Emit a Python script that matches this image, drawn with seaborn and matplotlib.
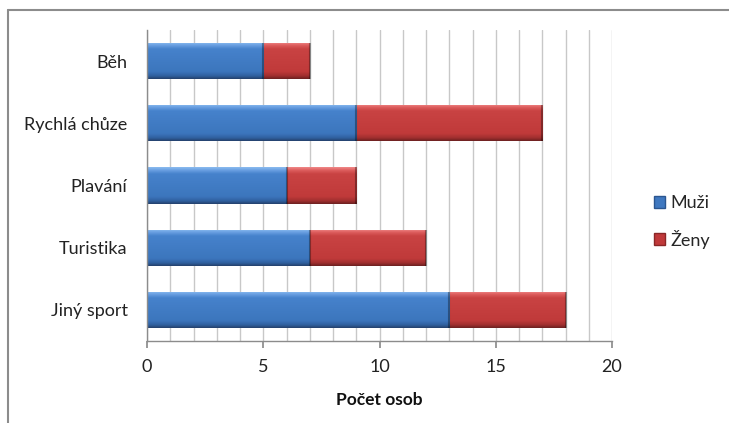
import numpy as np
import pandas as pd
import matplotlib
matplotlib.use("Agg")
import matplotlib.pyplot as plt
from matplotlib.colors import LinearSegmentedColormap
from matplotlib.patches import Patch
from matplotlib.lines import Line2D
import seaborn as sns

categories = ["Běh", "Rychlá chůze", "Plavání", "Turistika", "Jiný sport"]
muzi = [5, 9, 6, 7, 13]
zeny = [2, 8, 3, 5, 5]
x_ticks = [0, 5, 10, 15, 20]

sns.set_theme(style="white")
plt.rcParams["font.family"] = ["Lato", "DejaVu Sans"]

df = pd.DataFrame({"kategorie": categories, "Muži": muzi, "Ženy": zeny})
df["celkem"] = df["Muži"] + df["Ženy"]

fig = plt.figure(figsize=(7.29, 4.23), dpi=100)
ax = fig.add_axes([147 / 729, 1 - 341 / 423, (612 - 147) / 729, (341 - 30) / 423])

blue = "#3f78c0"
red = "#c0393a"

# totals first (women segment shows to the right), men on top
sns.barplot(data=df, y="kategorie", x="celkem", color=red, orient="h",
            width=0.58, ax=ax, saturation=1, edgecolor="none")
sns.barplot(data=df, y="kategorie", x="Muži", color=blue, orient="h",
            width=0.58, ax=ax, saturation=1, edgecolor="none")

# glossy vertical shading on each bar: light top rim, flat body, dark bottom rim
cmap_blue = LinearSegmentedColormap.from_list(
    "b", [(0.0, "#8cbcf0"), (0.08, "#6aa0e2"), (0.18, "#4682cc"),
          (0.8, "#3c76bd"), (0.92, "#30609f"), (1.0, "#243f6a")])
cmap_red = LinearSegmentedColormap.from_list(
    "r", [(0.0, "#f08a8a"), (0.08, "#de5e5e"), (0.18, "#c94343"),
          (0.8, "#c03a3a"), (0.92, "#9f2f2f"), (1.0, "#6a2020")])
grad = np.linspace(0, 1, 128).reshape(-1, 1)
n = len(categories)
for i, p in enumerate(list(ax.patches)):
    cm = cmap_red if i < n else cmap_blue
    x0, y0 = p.get_x(), p.get_y()
    w, h = p.get_width(), p.get_height()
    # y axis is inverted: y0 is the visual top of the bar
    im = ax.imshow(grad, cmap=cm, aspect="auto", origin="upper",
                   extent=[x0, x0 + w, y0 + h, y0], zorder=p.get_zorder() + 0.1,
                   interpolation="bicubic")
    im.set_clip_path(p)
    # darker end cap
    ax.plot([x0 + w, x0 + w], [y0, y0 + h], color="#00000055", lw=1.5,
            zorder=p.get_zorder() + 0.2, solid_capstyle="butt")

ax.set_xlim(0, 20)
ax.set_ylim(n - 0.5, -0.5)
ax.set_xticks(x_ticks)
ax.set_xticks(np.arange(0, 21, 1), minor=True)
ax.grid(axis="x", which="both", color="#c8c8c8", lw=1.0, zorder=0)
ax.set_axisbelow(True)
for s in ["top", "right"]:
    ax.spines[s].set_visible(False)
for s in ["left", "bottom"]:
    ax.spines[s].set_color("#8c8c8c")
    ax.spines[s].set_linewidth(1.0)
ax.tick_params(axis="x", which="major", length=5, color="#8c8c8c", bottom=True,
               labelsize=13, labelcolor="#222222", pad=8)
ax.tick_params(axis="x", which="minor", length=0)
ax.tick_params(axis="y", length=0, labelsize=13, labelcolor="#222222", pad=14)
ax.set_ylabel("")
ax.set_xlabel("Počet osob", fontsize=12.5, fontweight="bold", color="#111111", labelpad=12)

handles = [Patch(facecolor="#3f78c0", edgecolor="#2b5690", label="Muži"),
           Patch(facecolor="#c0393a", edgecolor="#8a2727", label="Ženy")]
fig.legend(handles=handles, loc="center left", bbox_to_anchor=(638 / 729, 1 - 222 / 423),
           frameon=False, fontsize=13, handlelength=0.6, handleheight=0.6,
           handletextpad=0.3, labelspacing=1.0)

# outer frame (top and left edges)
fig.add_artist(Line2D([8 / 729, 1], [1 - 10 / 423, 1 - 10 / 423],
                      transform=fig.transFigure, color="#8c8c8c", lw=1.5))
fig.add_artist(Line2D([8 / 729, 8 / 729], [0, 1 - 10 / 423],
                      transform=fig.transFigure, color="#8c8c8c", lw=1.5))

fig.savefig("out.png", dpi=100, facecolor="white")
